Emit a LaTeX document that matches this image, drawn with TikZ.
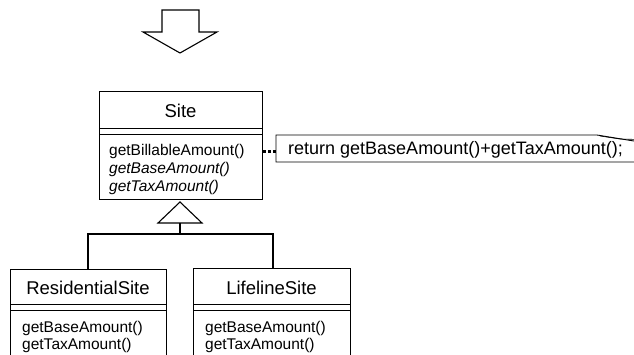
\documentclass[tikz,border=0pt]{standalone}
\usepackage{fontspec}
\setmainfont{Liberation Sans}
\begin{document}
\begin{tikzpicture}[x=1pt,y=-1pt,
  classbox/.style={draw, line width=0.9pt},
  cname/.style={font=\fontsize{18.5}{20}\selectfont, inner sep=0pt},
  meth/.style={font=\fontsize{15.5}{18}\selectfont, inner sep=0pt, anchor=west},
  conn/.style={line width=1.8pt},
  hollow/.style={draw, line width=1.1pt, fill=white, line join=miter}]
\useasboundingbox (0,0) rectangle (634,354);
\clip (0,0) rectangle (634,354);
% block arrow
\draw[hollow] (162,10) -- (199,10) -- (199,32) -- (217,32) -- (180,53) -- (143,32) -- (162,32) -- cycle;
% Site class
\node (site) [classbox, anchor=north west, minimum width=163pt, minimum height=108pt, inner sep=0pt] at (99,91) {};
\draw[line width=0.9pt] (99,128) -- (262,128) (99,134) -- (262,134);
\node (sitename) [cname] at (180.5,111) {Site};
\node (mbill) [meth] at (109,151) {getBillableAmount()};
\node (mbase) [meth] at (109,169) {\itshape getBaseAmount()};
\node (mtax) [meth] at (109,187) {\itshape getTaxAmount()};
% note
\node (note) [anchor=west, inner sep=0pt, font=\fontsize{18}{20}\selectfont] at (288,150) {return getBaseAmount()+getTaxAmount();};
\draw[line width=0.9pt] (640,162) -- (276,162) -- (276,135) -- (597,135) -- (640,142);
\draw[line width=0.6pt] (600,136) -- (620,139) -- (640,139.5);
\coordinate (noteL) at (276,151);
\draw[line width=3pt, dash pattern=on 3pt off 2.2pt] (site.east |- mbill) -- (noteL);
% subclasses
\node (res) [classbox, anchor=north west, minimum width=156pt, minimum height=100pt, inner sep=0pt] at (10,269) {};
\draw[line width=0.9pt] (10,304) -- (166,304) (10,310) -- (166,310);
\node (resname) [cname] at (88,288) {ResidentialSite};
\node [meth] at (22,328) {getBaseAmount()};
\node [meth] at (22,345) {getTaxAmount()};
\node (life) [classbox, anchor=north west, minimum width=157pt, minimum height=100pt, inner sep=0pt] at (193,268) {};
\draw[line width=0.9pt] (193,304) -- (350,304) (193,310) -- (350,310);
\node (lifename) [cname] at (271.5,288) {LifelineSite};
\node [meth] at (205,328) {getBaseAmount()};
\node [meth] at (205,345) {getTaxAmount()};
% inheritance
\coordinate (tri) at (180,202);
\coordinate (join) at (180,234);
\draw[hollow] (tri) -- (202,223) -- (158,223) -- cycle;
\draw[conn] (180,223) -- (join);
\draw[conn] (join) -| (88,234) -- (res.north -| 88,0);
\draw[conn] (join) -- (273,234) -- (273,268);
\end{tikzpicture}
\end{document}
